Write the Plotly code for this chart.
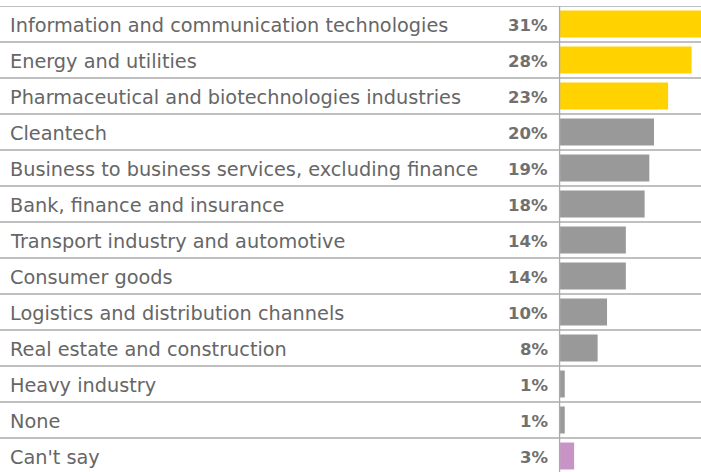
import plotly.graph_objects as go

categories = [
    "Information and communication technologies",
    "Energy and utilities",
    "Pharmaceutical and biotechnologies industries",
    "Cleantech",
    "Business to business services, excluding finance",
    "Bank, finance and insurance",
    "Transport industry and automotive",
    "Consumer goods",
    "Logistics and distribution channels",
    "Real estate and construction",
    "Heavy industry",
    "None",
    "Can't say",
]
values = [31, 28, 23, 20, 19, 18, 14, 14, 10, 8, 1, 1, 3]
labels = ["31%", "28%", "23%", "20%", "19%", "18%", "14%", "14%", "10%", "8%", "1%", "1%", "3%"]
bar_colors = ["#FFD200"] * 3 + ["#999999"] * 9 + ["#C894C6"]

W, H = 701, 472
n = len(categories)

fig = go.Figure(go.Bar(
    x=values, y=categories, orientation="h",
    marker=dict(color=bar_colors, line=dict(width=0)),
    width=0.75, hoverinfo="skip",
))

# Horizontal separators
for i in range(n):
    fig.add_shape(type="line", xref="paper", x0=0, x1=1, yref="y", y0=i - 0.5, y1=i - 0.5,
                  line=dict(color="#ABABAB", width=1.3), layer="below")
# Vertical axis line
fig.add_shape(type="line", xref="x", x0=-0.1, x1=-0.1, yref="paper", y0=0, y1=1,
              line=dict(color="#ABABAB", width=1.3), layer="above")

for cat, lab in zip(categories, labels):
    fig.add_annotation(x=8 / W, xref="paper", y=cat, yref="y", text=cat, showarrow=False,
                       xanchor="left", yanchor="middle", yshift=-1,
                       font=dict(family="DejaVu Sans", size=19.3, color="#666666"))
    fig.add_annotation(x=550 / W, xref="paper", y=cat, yref="y", text="<b>" + lab + "</b>", showarrow=False,
                       xanchor="right", yanchor="middle", yshift=-1,
                       font=dict(family="DejaVu Sans", size=16.5, color="#707070"))

fig.update_layout(
    width=W, height=H,
    margin=dict(l=0, r=0, t=6, b=0),
    paper_bgcolor="white", plot_bgcolor="white",
    showlegend=False,
    xaxis=dict(range=[-119.2, 30], visible=False, fixedrange=True),
    yaxis=dict(type="category", categoryarray=categories, range=[n - 0.5 - 2 / 36, -0.5],
               visible=False, fixedrange=True),
    bargap=0.25,
)

fig.write_html("out.html", config={"displayModeBar": False},
               post_script="document.body.style.margin='0';document.body.style.overflow='hidden';")
